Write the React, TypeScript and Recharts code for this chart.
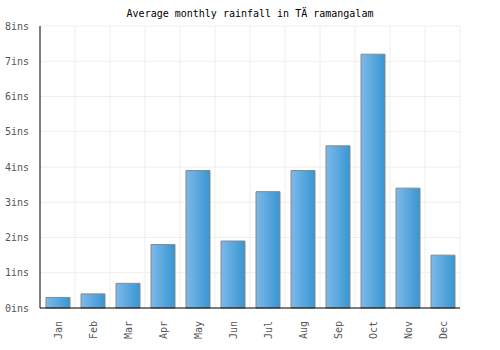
import * as React from "react";
import { Bar, BarChart, CartesianGrid, XAxis, YAxis } from "recharts";

const months = ["Jan", "Feb", "Mar", "Apr", "May", "Jun", "Jul", "Aug", "Sep", "Oct", "Nov", "Dec"];
const rainfall = [0.3, 0.4, 0.7, 1.8, 3.9, 1.9, 3.3, 3.9, 4.6, 7.2, 3.4, 1.5];
const yTicks = [0, 1, 2, 3, 4, 5, 6, 7, 8];

const FONT = "'DejaVu Sans Mono', monospace";

const data = months.map((month, i) => ({ month, rainfall: rainfall[i] }));

function MonthTick(props: any) {
  const { x, y, payload } = props;
  return (
    <text
      x={x}
      y={y}
      transform={`rotate(-90, ${x}, ${y})`}
      dx={-5}
      dy={4}
      textAnchor="end"
      fill="#555"
      fontSize={10}
      fontFamily={FONT}
    >
      {payload.value}
    </text>
  );
}

export default function App() {
  return (
    <div style={{ position: "absolute", left: 0, top: 0, width: 500, height: 350, background: "#fff" }}>
      <div
        style={{
          position: "absolute",
          top: 8,
          left: 0,
          width: 500,
          textAlign: "center",
          fontFamily: FONT,
          fontSize: 10,
          color: "#000",
        }}
      >
        Average monthly rainfall in TÄ ramangalam
      </div>
      <BarChart
        width={500}
        height={350}
        data={data}
        margin={{ top: 26, right: 40, left: 0, bottom: 0 }}
        barSize={24}
      >
        <CartesianGrid
          stroke="#eeeeee"
          verticalCoordinatesGenerator={({ offset }: any) => {
            const step = offset.width / months.length;
            return months.map((_, i) => offset.left + step * (i + 1));
          }}
        />
        <XAxis
          dataKey="month"
          height={42}
          interval={0}
          tickLine={false}
          axisLine={{ stroke: "#000" }}
          tick={<MonthTick />}
        />
        <YAxis
          width={40}
          domain={[0, 8]}
          ticks={yTicks}
          tickLine={false}
          axisLine={{ stroke: "#000" }}
          tickFormatter={(v: number) => `${v}ins`}
          tick={{ fill: "#555", fontSize: 10, fontFamily: FONT }}
          tickMargin={5}
        />
        <defs>
          <linearGradient id="barFill" x1="0" y1="0" x2="1" y2="0">
            <stop offset="0%" stopColor="#7cb9ea" />
            <stop offset="100%" stopColor="#3896d2" />
          </linearGradient>
        </defs>
        <Bar dataKey="rainfall" fill="url(#barFill)" stroke="#888" strokeWidth={1} isAnimationActive={false} />
      </BarChart>
    </div>
  );
}
